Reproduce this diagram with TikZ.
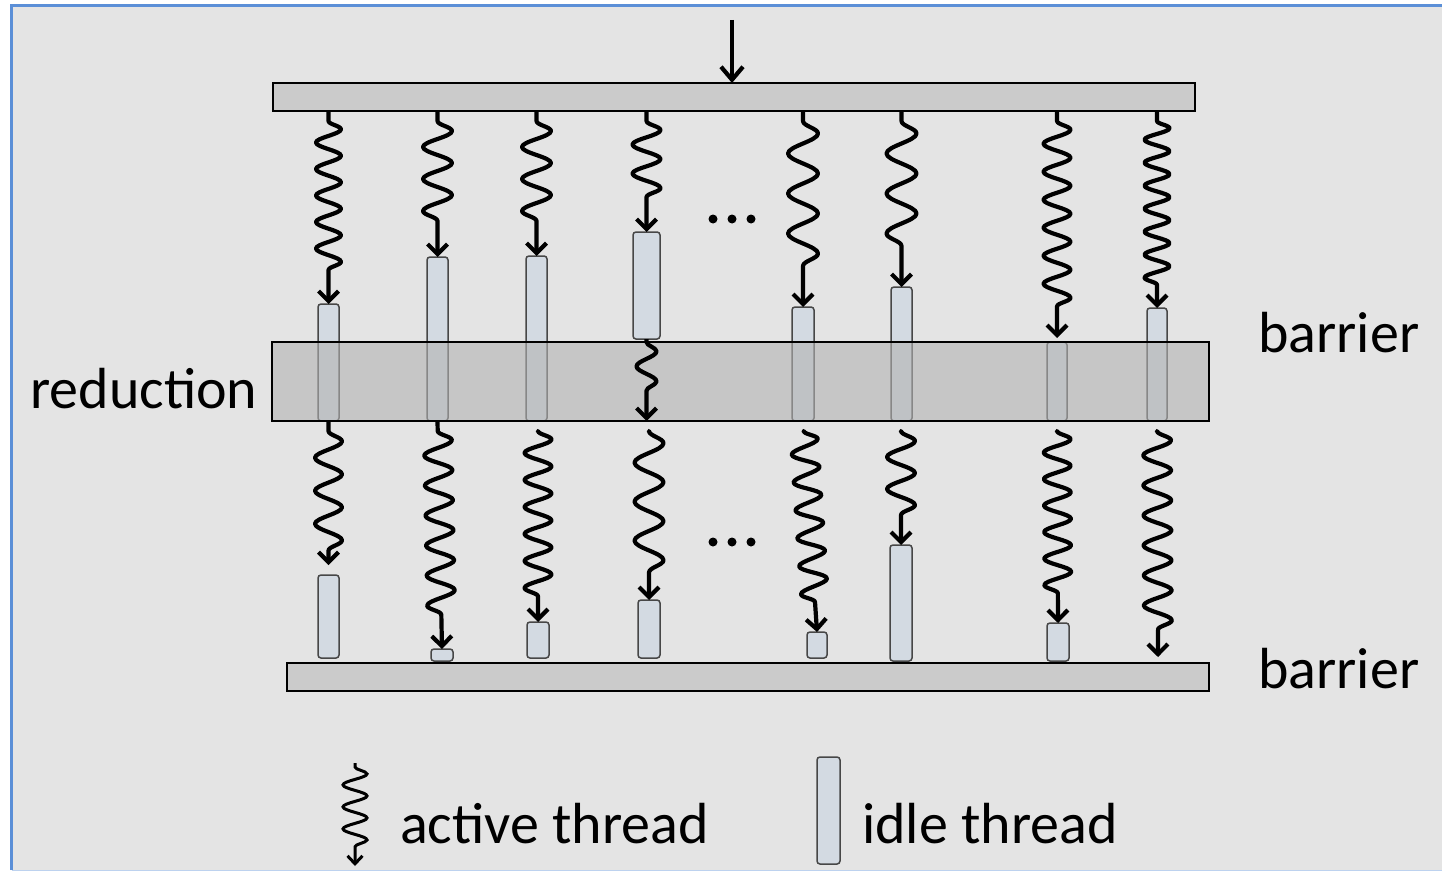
\documentclass[tikz,border=0pt]{standalone}
\usepackage{fontspec}
\setmainfont{Carlito}
\usetikzlibrary{arrows.meta,decorations.pathmorphing,fit}

\definecolor{paper}{HTML}{E4E4E4}
\definecolor{framebl}{HTML}{5B8FD7}
\definecolor{barfill}{HTML}{CBCBCB}
\definecolor{idlefill}{HTML}{D3DAE2}
\definecolor{bandfill}{HTML}{B2B2B2}

\begin{document}
\begin{tikzpicture}[x=1pt,y=-1pt,
  barrierbar/.style={draw=black, line width=1.6pt, fill=barfill, inner sep=0pt, outer sep=0pt},
  bandbox/.style={draw=black, line width=1.6pt, fill=bandfill, fill opacity=0.6, inner sep=0pt, outer sep=0pt},
  idle/.style={draw=black!72, line width=1.5pt, fill=idlefill, rounded corners=3pt, inner sep=0pt, outer sep=0pt},
  active/.style={line width=4.2pt, line join=round, -{Straight Barb[length=10pt,width=20pt]}},
  wave/.style 2 args={decoration={snake, segment length=#1, amplitude=#2, pre length=10pt, post length=22pt}, decorate},
  label/.style={font=\fontsize{58}{63}\selectfont, inner sep=0pt, anchor=base west, text=black},
  dot/.style={circle, fill=black, inner sep=0pt, minimum size=9pt}
]
% canvas and frame
\useasboundingbox (0,0) rectangle (1442,872);
\fill[white] (0,0) rectangle (1442,872);
\fill[paper] (11,5) rectangle (1442,870);
\draw[framebl, line width=3pt] (11.5,870) -- (11.5,5.5) -- (1442,5.5);
\draw[framebl!40, line width=1.5pt] (11.5,870.5) -- (1442,870.5);

% barriers
\node[barrierbar, fit={(273,83)(1195,111)}] (top) {};
\node[barrierbar, fit={(287,663)(1209,691)}] (bot) {};
\coordinate (in) at (732,20);
\draw[line width=4.2pt, -{Straight Barb[length=13pt,width=22pt]}] (in) -- (top.north -| in);

% idle threads before the reduction
\node[idle, fit={(318,304)(339,421)}] (u1) {};
\node[idle, fit={(427,257)(448,421)}] (u2) {};
\node[idle, fit={(526,256)(547,421)}] (u3) {};
\node[idle, fit={(633,232)(660,339)}] (u4) {};
\node[idle, fit={(792,307)(814,421)}] (u5) {};
\node[idle, fit={(891,287)(912,421)}] (u6) {};
\node[idle, fit={(1047,342)(1067,421)}] (u7) {};
\node[idle, fit={(1147,308)(1167,421)}] (u8) {};

% reduction band
\node[bandbox, fit={(272,342)(1209,421)}] (band) {};

% active threads before the reduction
\draw[active, wave={26.5}{12.5}] (top.south -| u1.north) -- (u1.north);
\draw[active, wave={32}{14.5}] (top.south -| u2.north) -- (u2.north);
\draw[active, wave={32}{14.5}] (top.south -| u3.north) -- (u3.north);
\draw[active, wave={29}{14}] (top.south -| u4.north) -- (u4.north);
\draw[active, wave={40}{15}] (top.south -| u5.north) -- (u5.north);
\draw[active, wave={40}{15}] (top.south -| u6.north) -- (u6.north);
\draw[active, wave={28}{13.5}, shorten >=4pt] (top.south -| u7.north) -- (u7.north);
\draw[active, wave={23}{12.5}] (top.south -| u8.north) -- (u8.north);
\draw[active, decoration={snake, segment length=30, amplitude=10, pre length=3pt, post length=16pt}, decorate] (u4.south) -- (band.south -| u4.south);

% idle threads after the reduction
\node[idle, fit={(318,575)(339,658)}] (l1) {};
\node[idle, fit={(431,649)(453,661)}] (l2) {};
\node[idle, fit={(527,622)(549,658)}] (l3) {};
\node[idle, fit={(638,600)(660,658)}] (l4) {};
\node[idle, fit={(807,632)(827,658)}] (l5) {};
\node[idle, fit={(890,545)(912,661)}] (l6) {};
\node[idle, fit={(1047,623)(1069,661)}] (l7) {};
\coordinate (e8) at (1158,657);

% active threads after the reduction
\draw[active, wave={33}{13.5}, shorten >=10pt] (u1.south) -- (l1.north);
\draw[active, wave={30}{14}] (u2.south) -- (l2.north);
\draw[active, wave={27}{13.5}, shorten <=11pt] (band.south -| l3.north) -- (l3.north);
\draw[active, wave={39}{14.5}, shorten <=11pt] (band.south -| l4.north) -- (l4.north);
\draw[active, wave={28}{13.5}, shorten <=11pt] (band.south -| u5.south) -- (l5.north);
\draw[active, wave={32}{14}, shorten <=11pt] (band.south -| l6.north) -- (l6.north);
\draw[active, wave={26.5}{13.5}, shorten <=11pt] (band.south -| u7.south) -- (l7.north);
\draw[active, wave={30}{14}, shorten <=11pt] (band.south -| u8.south) -- (e8);

% ellipses between the columns
\node[dot] (d1) at (713,219) {};
\node[dot] (d2) at (732,219) {};
\node[dot] (d3) at (751,219) {};
\node[dot] (d4) at (713,542) {};
\node[dot] (d5) at (732,542) {};
\node[dot] (d6) at (751,542) {};

% labels
\node[label] (lred) at (30,408) {reduction};
\node[label] (lb1) at (1258,352) {barrier};
\node[label] (lb2) at (1258,688) {barrier};

% legend
\coordinate (ka) at (355,763);
\coordinate (kb) at (355,866);
\draw[line width=3pt, -{Straight Barb[length=8pt,width=15pt]}, decoration={snake, segment length=22, amplitude=12, pre length=4pt, post length=16pt}, decorate] (ka) -- (kb);
\node[label] (lact) at (400,843) {active thread};
\node[idle, fit={(817,757)(840,864)}] (kidle) {};
\node[label] (lidle) at (862,843) {idle thread};
\end{tikzpicture}
\end{document}
